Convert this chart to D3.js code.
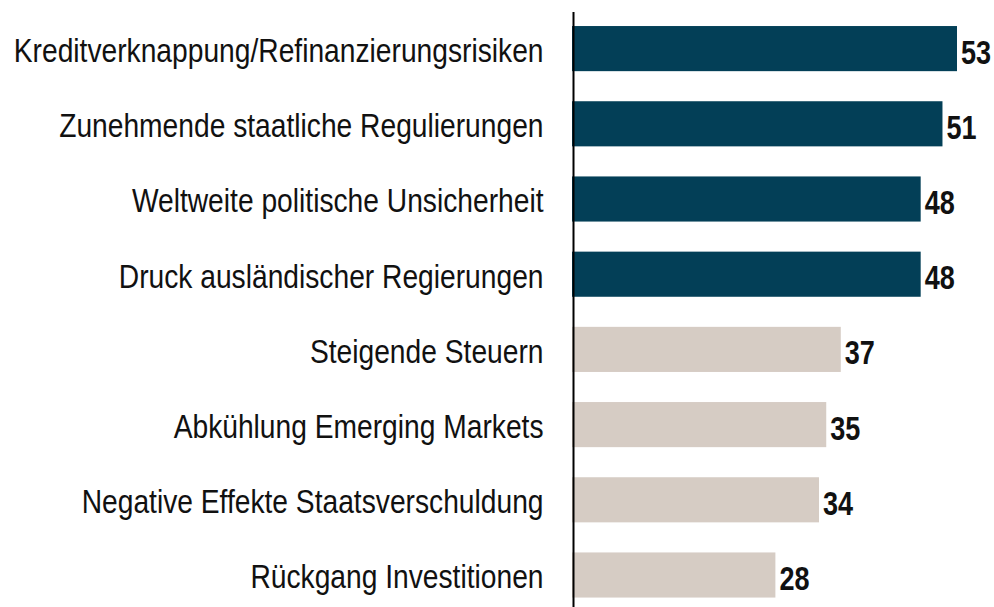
<!DOCTYPE html>
<html><head><meta charset="utf-8">
<script src="https://cdn.jsdelivr.net/npm/d3@7"></script>
<style>html,body{margin:0;padding:0;background:#fff;}svg{display:block;}</style>
</head><body>
<svg id="chart" width="994" height="607"></svg>
<script>
const categories = [
  "Kreditverknappung/Refinanzierungsrisiken",
  "Zunehmende staatliche Regulierungen",
  "Weltweite politische Unsicherheit",
  "Druck ausländischer Regierungen",
  "Steigende Steuern",
  "Abkühlung Emerging Markets",
  "Negative Effekte Staatsverschuldung",
  "Rückgang Investitionen"
];
const values = [53, 51, 48, 48, 37, 35, 34, 28];
const highlighted = [true, true, true, true, false, false, false, false];

const svg = d3.select("#chart");
const x = d3.scaleLinear().domain([0, 53]).range([572, 957]);
const y = d3.scaleBand().domain(categories).range([11, 612.6]).paddingInner(0.4).paddingOuter(0.2);
const squeeze = 0.842;

svg.selectAll("rect.bar").data(categories).enter().append("rect")
  .attr("class", "bar")
  .attr("x", x(0))
  .attr("y", d => y(d))
  .attr("width", (d, i) => x(values[i]) - x(0))
  .attr("height", y.bandwidth())
  .attr("fill", (d, i) => highlighted[i] ? "#033f57" : "#d6ccc4");

svg.append("line")
  .attr("x1", 573.5).attr("x2", 573.5)
  .attr("y1", 12).attr("y2", 607)
  .attr("stroke", "#000").attr("stroke-width", 2);

svg.selectAll("text.cat").data(categories).enter().append("text")
  .attr("class", "cat")
  .attr("transform", d => `translate(543.5,${y(d) + y.bandwidth() / 2 + 13.4}) scale(${squeeze},1)`)
  .attr("text-anchor", "end")
  .attr("font-family", "'Liberation Sans', Arial, sans-serif")
  .attr("font-size", 33.5)
  .attr("fill", "#111")
  .text(d => d);

svg.selectAll("text.val").data(categories).enter().append("text")
  .attr("class", "val")
  .attr("transform", (d, i) => `translate(${x(values[i]) + 4},${y(d) + y.bandwidth() / 2 + 15}) scale(0.82,1)`)
  .attr("font-family", "'Liberation Sans', Arial, sans-serif")
  .attr("font-weight", "bold")
  .attr("font-size", 33)
  .attr("fill", "#111")
  .text((d, i) => values[i]);
</script>
</body></html>
